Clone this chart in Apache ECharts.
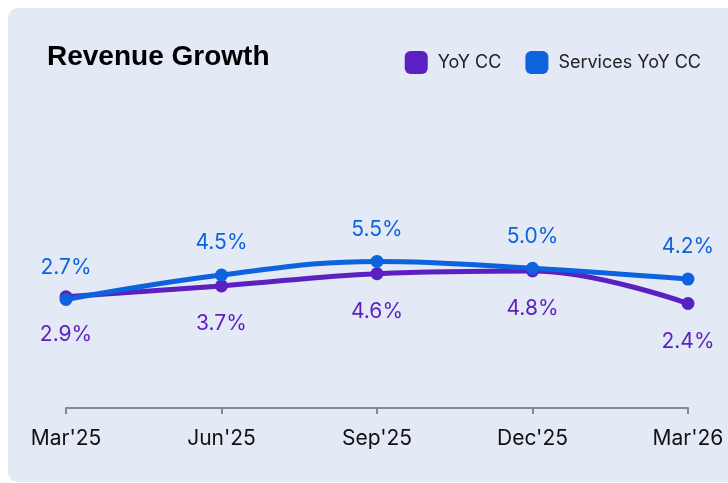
<!DOCTYPE html>
<html>
<head>
<meta charset="utf-8">
<script src="https://cdn.jsdelivr.net/npm/echarts@6/dist/echarts.min.js"></script>
<style>
  html, body { margin: 0; padding: 0; background: #fff; }
  .card {
    position: absolute; left: 8px; top: 8px; width: 740px; height: 474px;
    background: #e3e9f5; border-radius: 10px;
  }
  #chart { position: absolute; left: 0; top: 0; width: 728px; height: 483px; }
</style>
</head>
<body>
<div class="card"></div>
<div id="chart"></div>
<script>
// quarters and growth values (%)
const quarters = ["Mar'25", "Jun'25", "Sep'25", "Dec'25", "Mar'26"];
const yoyCC = [2.9, 3.7, 4.6, 4.8, 2.4];
const servicesYoyCC = [2.7, 4.5, 5.5, 5.0, 4.2];

const PURPLE = "#5b1fc2";
const BLUE = "#0d62de";
const FONT = "Inter, 'Noto Sans', sans-serif";

const chart = echarts.init(document.getElementById("chart"));

chart.setOption({
  backgroundColor: "transparent",
  animation: false,
  title: {
    text: "Revenue Growth",
    left: 42,
    top: 38,
    textStyle: { fontFamily: "'Liberation Sans', Arial, sans-serif", fontWeight: "bold", fontSize: 28, color: "#000" }
  },
  legend: {
    right: 22,
    top: 46,
    icon: "roundRect",
    itemWidth: 23,
    itemHeight: 23,
    itemGap: 24,
    textStyle: { fontFamily: FONT, fontSize: 18, color: "#222", padding: [0, 0, 0, 5] },
    data: ["YoY CC", "Services YoY CC"]
  },
  grid: { left: 66, right: 40, top: 100, bottom: 75 },
  xAxis: {
    type: "category",
    data: quarters,
    boundaryGap: false,
    axisLine: { onZero: false, lineStyle: { color: "#888", width: 2 } },
    axisTick: { alignWithLabel: true, length: 6, lineStyle: { color: "#888", width: 2 } },
    axisLabel: { fontFamily: FONT, fontSize: 21, color: "#111", margin: 20 }
  },
  yAxis: {
    type: "value",
    min: -5.3,
    max: 17.4,
    show: false,
    splitLine: { show: false }
  },
  series: [
    {
      name: "YoY CC",
      type: "line",
      data: yoyCC,
      smooth: 0.4,
      symbol: "circle",
      symbolSize: 13,
      lineStyle: { color: PURPLE, width: 5 },
      itemStyle: { color: PURPLE },
      label: {
        show: true,
        position: "bottom",
        distance: 21,
        formatter: p => p.value.toFixed(1) + "%",
        fontFamily: FONT,
        fontSize: 21,
        color: PURPLE
      }
    },
    {
      name: "Services YoY CC",
      type: "line",
      data: servicesYoyCC,
      smooth: 0.4,
      symbol: "circle",
      symbolSize: 13,
      lineStyle: { color: BLUE, width: 5 },
      itemStyle: { color: BLUE },
      label: {
        show: true,
        position: "top",
        distance: 15,
        formatter: p => p.value.toFixed(1) + "%",
        fontFamily: FONT,
        fontSize: 21,
        color: BLUE
      }
    }
  ]
});
</script>
</body>
</html>
